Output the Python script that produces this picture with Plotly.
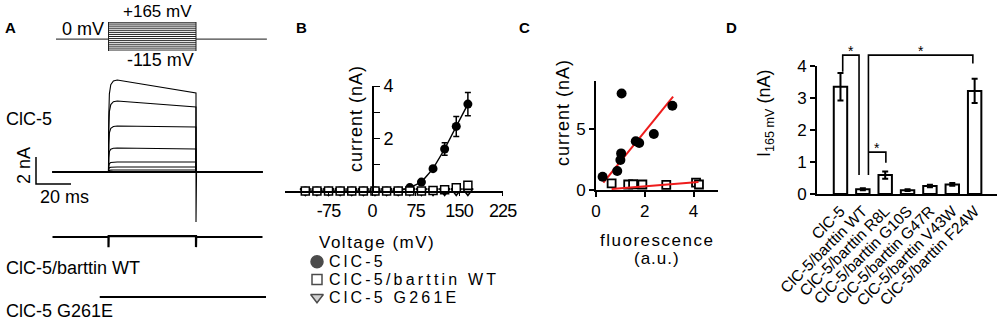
import plotly.graph_objects as go

W, H = 1000, 324
def px(x): return x / W
def py(y): return 1 - y / H

FONT = "Liberation Sans, Arial, sans-serif"

# ---------------- data ----------------
# Panel A: voltage protocol and representative current traces
step_voltages = list(range(-115, 166, 20))          # mV
t_start, t_on, t_off, t_end = 30, 62, 112, 150      # ms
clc5_peak = [6.81, 5.26, 3.41, 1.78, 0.74, 0.37, 0.15]   # nA
clc5_end = [5.85, 4.81, 3.33, 1.70, 0.74, 0.37, 0.15]    # nA
clc5_tail = -3.7
wt_pulse_level = 0.07
wt_spike = -0.75

# Panel B: I-V relationship
iv_voltage = [-115, -95, -75, -55, -35, -15, 5, 25, 45, 65, 85, 105, 125, 145, 165]
iv_clc5 = [0, 0, 0, 0, 0, 0, 0, 0, 0, 0.13, 0.34, 0.85, 1.60, 2.46, 3.31]
iv_clc5_err = [0, 0, 0, 0, 0, 0, 0, 0, 0, 0.02, 0.03, 0.05, 0.24, 0.38, 0.44]
iv_wt = [0, 0, 0, 0, 0, 0, 0, 0, 0, 0, 0, 0.02, 0.05, 0.12, 0.22]
iv_g261e = [0, 0, 0, 0, 0, 0, 0, 0, 0, 0, 0, 0, 0, 0, 0]
legend_names = ["ClC-5", "ClC-5/barttin WT", "ClC-5 G261E"]
iv_ticks = [-75, 0, 75, 150, 225]

# Panel C: current vs fluorescence
fl_clc5 = [0.27, 1.05, 0.87, 1.00, 1.03, 1.63, 1.77, 2.37, 3.13]
cur_clc5 = [1.09, 7.90, 1.56, 2.46, 3.00, 4.00, 3.85, 4.59, 6.90]
fl_wt = [0.64, 1.32, 1.52, 1.90, 2.88, 4.10, 4.22]
cur_wt = [0.55, 0.45, 0.47, 0.45, 0.42, 0.60, 0.45]
fit_clc5_x = [0.30, 3.16]
fit_clc5_y = [0.60, 7.65]
fit_wt_x = [0.64, 4.20]
fit_wt_y = [0.08, 0.65]

# Panel D: current at +165 mV
bar_labels = ["ClC-5", "ClC-5/barttin WT", "ClC-5/barttin R8L", "ClC-5/barttin G10S",
              "ClC-5/barttin G47R", "ClC-5/barttin V43W", "ClC-5/barttin F24W"]
bar_values = [3.35, 0.15, 0.59, 0.12, 0.25, 0.30, 3.22]
bar_err = [0.43, 0.03, 0.11, 0.03, 0.04, 0.04, 0.38]

fig = go.Figure()

# ---------------- Panel A ----------------
A_PX_PER_MS = 1.75
A_PX_PER_NA = 13.5
A_BASE_PY = 172
xa_range = [0, 270 / A_PX_PER_MS]
ya_range = [-(H - A_BASE_PY) / A_PX_PER_NA, A_BASE_PY / A_PX_PER_NA]

rise_dt = [0, 0.15, 0.5, 1.3, 2.8, 5.0]
rise_fr = [0, 0.6, 0.85, 0.95, 0.99, 1.0]
# baseline
fig.add_trace(go.Scatter(x=[t_start, t_end], y=[0, 0], mode="lines",
                         line=dict(color="black", width=2), xaxis="x", yaxis="y",
                         showlegend=False, hoverinfo="skip"))
for i, (p, e) in enumerate(zip(clc5_peak, clc5_end)):
    xs = [t_start, t_on] + [t_on + d for d in rise_dt[1:]] + [t_off]
    ys = [0, 0] + [p * f for f in rise_fr[1:]] + [e]
    if i == 0:
        xs += [t_off, t_off + 0.3, t_end]
        ys += [clc5_tail, 0, 0]
    else:
        xs += [t_off, t_end]
        ys += [0, 0]
    fig.add_trace(go.Scatter(x=xs, y=ys, mode="lines", line=dict(color="black", width=1.1),
                             xaxis="x", yaxis="y", showlegend=False, hoverinfo="skip"))

# ClC-5/barttin WT trace
wt_off = -(237 - A_BASE_PY) / A_PX_PER_NA
fig.add_trace(go.Scatter(
    x=[t_start, t_on, t_on, t_on + 0.1, t_off, t_off, t_off + 0.1, t_end],
    y=[v + wt_off for v in [0, 0, wt_spike, wt_pulse_level, wt_pulse_level, wt_spike, 0, 0]],
    mode="lines", line=dict(color="black", width=2.2), xaxis="x", yaxis="y",
    showlegend=False, hoverinfo="skip"))
# ClC-5 G261E trace
g_off = -(297 - A_BASE_PY) / A_PX_PER_NA
fig.add_trace(go.Scatter(x=[57, 152], y=[g_off, g_off], mode="lines",
                         line=dict(color="black", width=2.0), xaxis="x", yaxis="y",
                         showlegend=False, hoverinfo="skip"))
# scale bar
sb_x = 36 / A_PX_PER_MS
sb_y = (A_BASE_PY - 184) / A_PX_PER_NA
fig.add_trace(go.Scatter(x=[sb_x, sb_x, sb_x + 20], y=[sb_y + 2, sb_y, sb_y], mode="lines",
                         line=dict(color="black", width=1.5), xaxis="x", yaxis="y",
                         showlegend=False, hoverinfo="skip"))

# voltage protocol (x axis shared with traces, separate mV axis)
hold_l, hold_r = 32, 152.5
fig.add_trace(go.Scatter(x=[hold_l, t_on, None, t_off, hold_r], y=[0, 0, None, 0, 0],
                         mode="lines", line=dict(color="#444", width=1.3),
                         xaxis="x", yaxis="y5", showlegend=False, hoverinfo="skip"))
box_x, box_y = [], []
for v in step_voltages + [165]:
    box_x += [t_on, t_off, None]
    box_y += [v, v, None]
box_x += [t_on, t_on, None, t_off, t_off]
box_y += [min(step_voltages), 165, None, min(step_voltages), 165]
fig.add_trace(go.Scatter(x=box_x, y=box_y, mode="lines",
                         line=dict(color="#222", width=1),
                         xaxis="x", yaxis="y5", showlegend=False, hoverinfo="skip"))

# ---------------- Panel B ----------------
fig.add_trace(go.Scatter(x=iv_voltage, y=iv_clc5, mode="lines+markers",
                         line=dict(color="black", width=1.4),
                         marker=dict(symbol="circle", size=9, color="black"),
                         error_y=dict(type="data", array=iv_clc5_err, color="black",
                                      thickness=1.5, width=3),
                         xaxis="x2", yaxis="y2", cliponaxis=False, showlegend=False))
fig.add_trace(go.Scatter(x=iv_voltage, y=iv_g261e, mode="markers",
                         marker=dict(symbol="triangle-down", size=9, color="#c0c0c0",
                                     line=dict(color="black", width=1.4)),
                         xaxis="x2", yaxis="y2", cliponaxis=False, showlegend=False))
fig.add_trace(go.Scatter(x=iv_voltage, y=iv_wt, mode="markers",
                         marker=dict(symbol="square", size=8, color="white",
                                     line=dict(color="black", width=1.5)),
                         xaxis="x2", yaxis="y2", cliponaxis=False, showlegend=False))

# legend for B (own hidden axis, rows = item index)
leg_idx = [0, 1, 2]
fig.add_trace(go.Scatter(x=[0, 0, 0], y=leg_idx, mode="markers",
                         marker=dict(symbol=["circle", "square", "triangle-down"],
                                     size=[12, 10, 11], color=["black", "white", "#c0c0c0"],
                                     line=dict(color="black", width=1.5)),
                         xaxis="x6", yaxis="y6", cliponaxis=False, showlegend=False,
                         hoverinfo="skip"))

# ---------------- Panel C ----------------
fig.add_trace(go.Scatter(x=fit_clc5_x, y=fit_clc5_y, mode="lines",
                         line=dict(color="#ee1c1c", width=2), xaxis="x3", yaxis="y3",
                         showlegend=False, cliponaxis=False))
fig.add_trace(go.Scatter(x=fl_clc5, y=cur_clc5, mode="markers",
                         marker=dict(symbol="circle", size=10, color="black"),
                         xaxis="x3", yaxis="y3", cliponaxis=False, showlegend=False))
fig.add_trace(go.Scatter(x=fl_wt, y=cur_wt, mode="markers",
                         marker=dict(symbol="square", size=8, color="white",
                                     line=dict(color="black", width=1.8)),
                         xaxis="x3", yaxis="y3", cliponaxis=False, showlegend=False))
fig.add_trace(go.Scatter(x=fit_wt_x, y=fit_wt_y, mode="lines",
                         line=dict(color="#ee1c1c", width=2), xaxis="x3", yaxis="y3",
                         showlegend=False, cliponaxis=False))

# ---------------- Panel D ----------------
bar_x = list(range(len(bar_labels)))
fig.add_trace(go.Bar(x=bar_x, y=bar_values, width=0.6,
                     marker=dict(color="white", line=dict(color="black", width=2)),
                     error_y=dict(type="data", array=bar_err, color="black", thickness=2, width=3),
                     xaxis="x4", yaxis="y4", showlegend=False))

# ---------------- axes ----------------
axis_common = dict(showgrid=False, zeroline=False, color="black", linecolor="black",
                   automargin=False)
hidden = dict(visible=False, automargin=False)
tight = '<span style="letter-spacing:-0.8px">%s</span>'
fig.update_layout(
    template="none",
    width=W, height=H, margin=dict(l=0, r=0, t=0, b=0, pad=0, autoexpand=False),
    paper_bgcolor="white", plot_bgcolor="rgba(0,0,0,0)",
    font=dict(family=FONT, color="black", size=16),
    showlegend=False,
    # A
    xaxis=dict(domain=[0, px(270)], range=xa_range, anchor="y", **hidden),
    yaxis=dict(domain=[0, 1], range=ya_range, anchor="x", **hidden),
    yaxis5=dict(domain=[py(51), py(22)], range=[-115, 165], anchor="x", **hidden),
    # B
    xaxis2=dict(domain=[px(285), px(503)], range=[-150, 225.5], anchor="y2",
                showline=True, linewidth=1.6, ticks="outside", ticklen=3, tickwidth=1.4,
                tickvals=iv_ticks, ticktext=[tight % t for t in iv_ticks],
                tickfont=dict(size=18), **axis_common),
    yaxis2=dict(domain=[py(191), py(86)], range=[0, 4], anchor="free", position=px(373),
                side="right", showline=True, linewidth=1.6, ticks="outside", ticklen=6,
                tickwidth=1.4, tickvals=[2, 4],
                minor=dict(tickvals=[1, 3], ticks="outside", ticklen=6, tickwidth=1.4,
                           tickcolor="black"),
                tickfont=dict(size=18), **axis_common),
    xaxis6=dict(domain=[px(310), px(510)], range=[-7, 193], anchor="y6", **hidden),
    yaxis6=dict(domain=[py(306), py(253)], range=[2.5, -0.5], anchor="x6", **hidden),
    # C
    xaxis3=dict(domain=[px(596), px(718)], range=[0, 5], anchor="y3",
                showline=True, linewidth=2, ticks="outside", ticklen=5, tickwidth=1.6,
                tickvals=[0, 2, 4], tickfont=dict(size=17), **axis_common),
    yaxis3=dict(domain=[py(190), py(81)], range=[0, 8.93], anchor="x3",
                showline=True, linewidth=2, ticks="outside", ticklen=5, tickwidth=1.6,
                tickvals=[0, 5], tickfont=dict(size=17), **axis_common),
    # D
    xaxis4=dict(domain=[px(817), px(997)], range=[-1.05, 7.0], anchor="y4",
                showline=True, linewidth=2, ticks="", tickvals=bar_x, ticktext=bar_labels,
                tickangle=-45, tickfont=dict(size=15.5), **axis_common),
    yaxis4=dict(domain=[py(194), py(66)], range=[0, 4], anchor="x4",
                showline=True, linewidth=2, ticks="outside", ticklen=5, tickwidth=1.6,
                dtick=1, tickfont=dict(size=17), **axis_common),
)

# ---------------- annotations ----------------
ann = []
def text(x, y, s, size=16, xanchor="center", angle=0, bold=False):
    ann.append(dict(x=px(x), y=py(y), xref="paper", yref="paper", text=s,
                    showarrow=False, xanchor=xanchor, yanchor="middle", textangle=angle,
                    font=dict(size=size, family=FONT, color="black",
                              weight="bold" if bold else "normal")))

# panel letters
text(10, 28, "A", 15, bold=True)
text(301, 28, "B", 15, bold=True)
text(524, 28, "C", 15, bold=True)
text(731, 28, "D", 15, bold=True)

# panel A texts
text(106, 29, "0 mV", 18, xanchor="right")
text(157, 12, "+165 mV", 17)
text(160, 60, "-115 mV", 18)
text(4, 119, "ClC-5", 18, xanchor="left")
text(4, 268, "ClC-5/barttin WT", 18, xanchor="left")
text(4, 311, "ClC-5 G261E", 18, xanchor="left")
text(24, 166, "2 nA", 18, angle=-90)
text(64, 197, "20 ms", 18)

# panel B texts
text(356, 119, '<span style="letter-spacing:1px">current (nA)</span>', 18, angle=-90)
text(377, 242, '<span style="letter-spacing:1.5px">Voltage (mV)</span>', 17)
for i, name in enumerate(legend_names):
    ann.append(dict(x=10, y=leg_idx[i], xref="x6", yref="y6",
                    text='<span style="letter-spacing:3.2px">%s</span>' % name,
                    showarrow=False, xanchor="left", yanchor="middle",
                    font=dict(size=16, family=FONT, color="black")))

# panel C texts
text(563, 113, '<span style="letter-spacing:1px">current (nA)</span>', 18, angle=-90)
text(657, 240, '<span style="letter-spacing:1.5px">fluorescence</span>', 17)
text(657, 258, '<span style="letter-spacing:1px">(a.u.)</span>', 17)

# panel D texts
text(765, 114, "I<sub>165 mV</sub> (nA)", 18, angle=-90)

# significance brackets for D (positions in data units -> paper)
d_x0, d_x1, d_r0, d_r1 = 817, 997, -1.05, 7.0
d_y0, d_y1 = 194, 66
def dpx(v): return px(d_x0 + (v - d_r0) / (d_r1 - d_r0) * (d_x1 - d_x0))
def dpy(v): return py(d_y0 + (v - 0) / 4 * (d_y1 - d_y0))

brackets = [
    ([0.1, 0.1, 0.83, 0.83], [3.82, 4.34, 4.34, 0.59]),
    ([1.25, 1.25, 5.92, 5.92], [0.59, 4.34, 4.34, 4.08]),
    ([1.25, 2.03, 2.03], [1.31, 1.31, 0.98]),
]
shapes = []
for bx, by in brackets:
    path = "M " + " L ".join("%f,%f" % (dpx(a), dpy(b)) for a, b in zip(bx, by))
    shapes.append(dict(type="path", path=path, xref="paper", yref="paper",
                       line=dict(color="black", width=1.6)))
stars = [(0.47, 4.47), (3.62, 4.47), (1.63, 1.45)]
for sx, sy in stars:
    ann.append(dict(x=dpx(sx), y=dpy(sy), xref="paper", yref="paper", text="*",
                    showarrow=False, xanchor="center", yanchor="middle",
                    font=dict(size=14, family=FONT, color="black")))

fig.update_layout(annotations=ann, shapes=shapes)
fig.write_html("out.html", config={"displayModeBar": False},
               post_script="document.body.style.margin='0';document.body.style.overflow='hidden';")
